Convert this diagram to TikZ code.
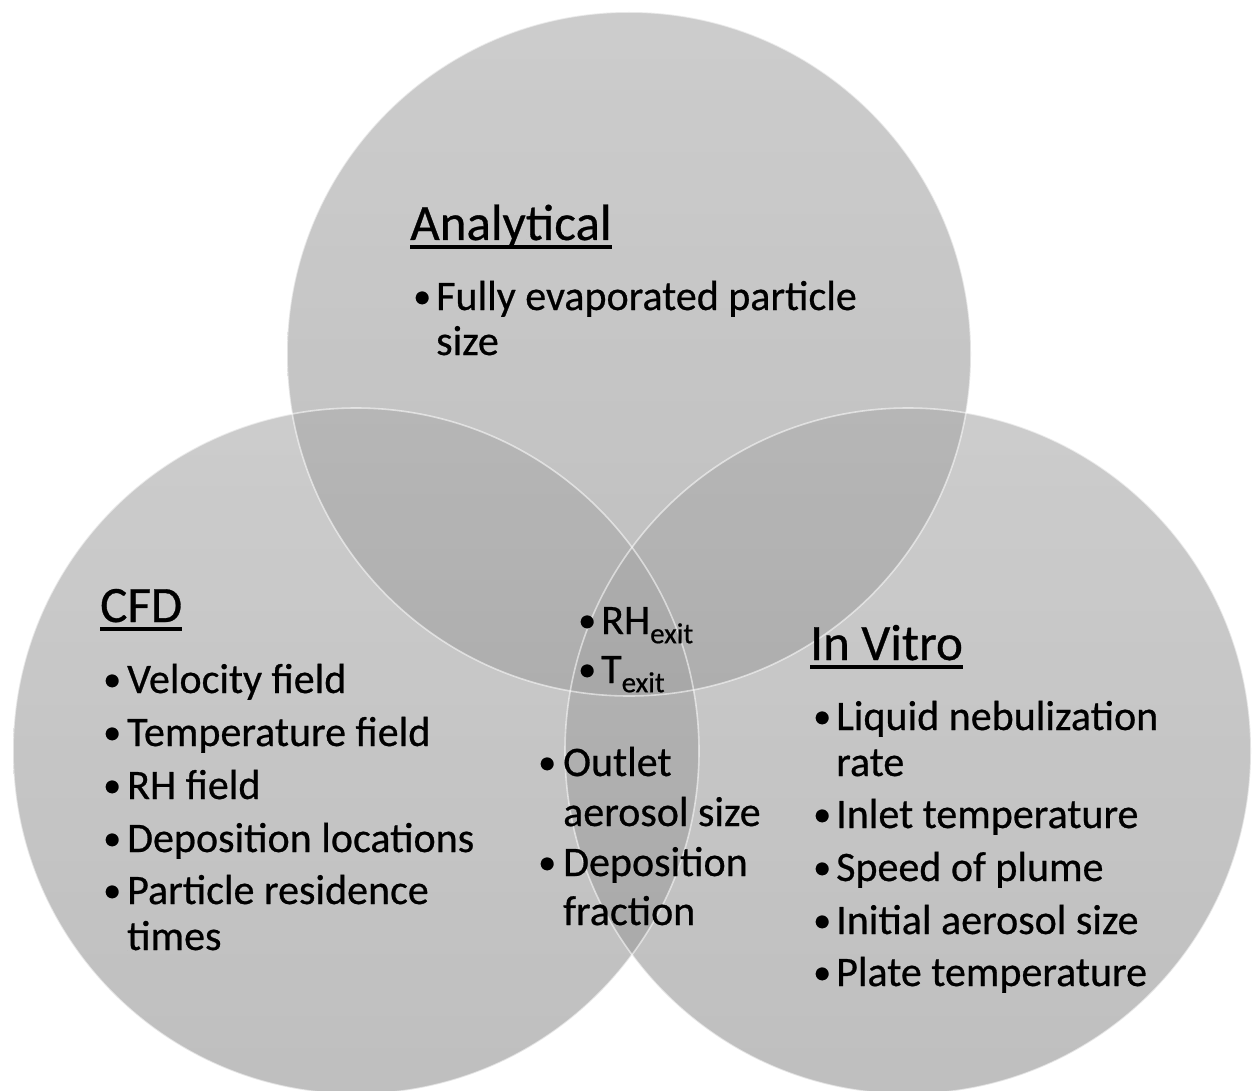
\documentclass[tikz,border=0pt]{standalone}
\usepackage{fontspec}
\setmainfont{Carlito}[FakeBold=0.6]
\newfontfamily\bulfont{Carlito}
\definecolor{circtop}{RGB}{174,174,174}
\definecolor{circbot}{RGB}{152,152,152}
\tikzset{
  venn/.style={top color=circtop, bottom color=circbot, fill opacity=0.62},
  rim/.style={draw=white, draw opacity=0.55, line width=1.6pt},
  head/.style={font=\fontsize{51}{60}\selectfont, anchor=base west, inner sep=0pt, text=black},
  body/.style={font=\fontsize{42}{48}\selectfont, anchor=base west, inner sep=0pt, text=black},
  bul/.style={font=\fontsize{36}{40}\selectfont, anchor=base west, inner sep=0pt, text=black},
  uline/.style={line width=3.6pt, black}
}
\newcommand{\sbx}[1]{\raisebox{-0.22em}{\fontsize{29}{30}\selectfont #1}}
\begin{document}
\begin{tikzpicture}[x=1pt,y=-1pt]
\useasboundingbox (0,0) rectangle (1257,1091);
\fill[white] (0,0) rectangle (1257,1091);
% circles
\shade[venn] (629,354) circle[radius=342pt];
\shade[venn] (356,751) circle[radius=343pt];
\shade[venn] (908,751) circle[radius=343pt];
\draw[rim] (629,354) circle[radius=342pt];
\draw[rim] (356,751) circle[radius=343pt];
\draw[rim] (908,751) circle[radius=343pt];
% Analytical
\node[head] (hA) at (410,240) {Analytical};
\draw[uline] ([yshift=-7pt]hA.base west) -- ([yshift=-7pt]hA.base east);
\node[bul] (bA1) at (413,308) {•};
\node[body] (tA1) at (436,310) {Fully evaporated particle};
\node[body] (tA2) at (436,355) {size};
% CFD
\node[head] (hC) at (100,622) {CFD};
\draw[uline] ([yshift=-7pt]hC.base west) -- ([yshift=-7pt]hC.base east);
\node[bul] (bC1) at (103,691) {•};
\node[body] (tC1) at (127,693) {Velocity field};
\node[bul] (bC2) at (103,744) {•};
\node[body] (tC2) at (127,746) {Temperature field};
\node[bul] (bC3) at (103,797) {•};
\node[body] (tC3) at (127,799) {RH field};
\node[bul] (bC4) at (103,850) {•};
\node[body] (tC4) at (127,852) {Deposition locations};
\node[bul] (bC5) at (103,902) {•};
\node[body] (tC5) at (127,904) {Particle residence};
\node[body] (tC6) at (127,950) {times};
% centre
\node[bul] (bM1) at (578,632) {•};
\node[body] (tM1) at (601,634) {RH\sbx{exit}};
\node[bul] (bM2) at (578,681) {•};
\node[body] (tM2) at (601,683) {T\sbx{exit}};
\node[bul] (bM3) at (538,774) {•};
\node[body] (tM3) at (563,776) {Outlet};
\node[body] (tM4) at (563,826) {aerosol size};
\node[bul] (bM5) at (538,874) {•};
\node[body] (tM5) at (563,876) {Deposition};
\node[body] (tM6) at (563,925) {fraction};
% In Vitro
\node[head] (hV) at (810,660) {In Vitro};
\draw[uline] ([yshift=-7pt]hV.base west) -- ([yshift=-7pt]hV.base east);
\node[bul] (bV1) at (813,728) {•};
\node[body] (tV1) at (836,730) {Liquid nebulization};
\node[body] (tV2) at (836,776) {rate};
\node[bul] (bV3) at (813,826) {•};
\node[body] (tV3) at (836,828) {Inlet temperature};
\node[bul] (bV4) at (813,879) {•};
\node[body] (tV4) at (836,881) {Speed of plume};
\node[bul] (bV5) at (813,932) {•};
\node[body] (tV5) at (836,934) {Initial aerosol size};
\node[bul] (bV6) at (813,984) {•};
\node[body] (tV6) at (836,986) {Plate temperature};
\end{tikzpicture}
\end{document}
